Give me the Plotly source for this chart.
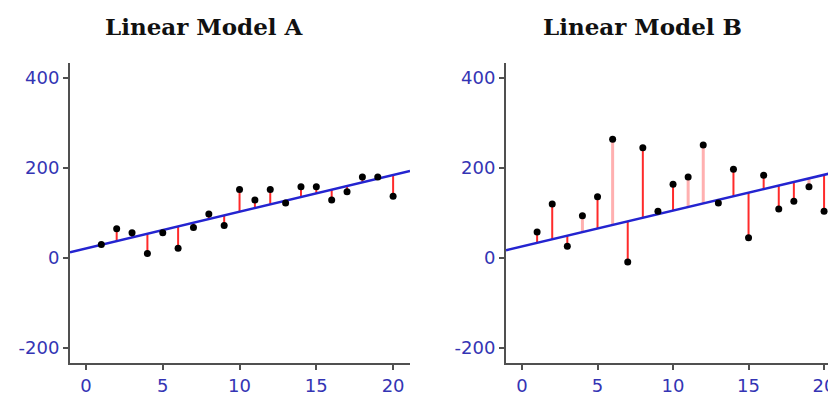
import plotly.graph_objects as go
from plotly.subplots import make_subplots

# ---- data ----
x_vals = list(range(1, 21))
y_model_a = [30, 65, 56, 10, 56, 22, 68, 98, 72, 152, 129, 152, 122, 158, 158, 129, 147, 180, 180, 137]
y_model_b = [58, 120, 26, 94, 136, 264, -9, 245, 104, 164, 180, 251, 122, 197, 45, 184, 109, 126, 158, 104]
fit_a = (21.5, 8.14)   # intercept, slope
fit_b = (25.8, 7.95)
titles = ["Linear Model A", "Linear Model B"]
x_ticks = [0, 5, 10, 15, 20]
y_ticks = [-200, 0, 200, 400]
y_tick_labels = ["-200", "0", "200", "400"]

# style: residual stems drawn lighter (as rendered in the reference)
pale_a = set()
pale_b = {4, 6, 11, 12, 19}

x_range_a = [-1.04, 21.1]
x_range_b = [-1.06, 20.79]
y_range = [-233, 433]

# the page body adds an 8px offset; the figure is sized to fill the rest
OFF = 8
W, H = 836 - OFF, 398 - OFF
ML, MR, MT, MB = 70 - OFF, 0, 63 - OFF, 398 - 363
plot_w = W - ML - MR
plot_h = H - MT - MB

fig = make_subplots(rows=1, cols=2)

TICK_FONT = dict(family="DejaVu Sans", size=18, color="#3434b4")
AXIS_COL = "#505050"

panels = [(y_model_a, fit_a, x_range_a, pale_a), (y_model_b, fit_b, x_range_b, pale_b)]
for i, (ys, (b0, b1), xr, pale) in enumerate(panels, start=1):
    # residual segments
    groups = {"red": ([], []), "pale": ([], [])}
    for xv, yv in zip(x_vals, ys):
        gx, gy = groups["pale" if xv in pale else "red"]
        gx += [xv, xv, None]
        gy += [yv, b0 + b1 * xv, None]
    for key, col, wd in [("pale", "#ffb0b0", 3), ("red", "#ff2a2a", 2)]:
        gx, gy = groups[key]
        if gx:
            fig.add_trace(go.Scatter(x=gx, y=gy, mode="lines",
                                     line=dict(color=col, width=wd),
                                     hoverinfo="skip", showlegend=False), row=1, col=i)
    # fitted line across the axis range
    fig.add_trace(go.Scatter(x=xr, y=[b0 + b1 * xr[0], b0 + b1 * xr[1]], mode="lines",
                             line=dict(color="#2424d0", width=2.5),
                             showlegend=False), row=1, col=i)
    # observations
    fig.add_trace(go.Scatter(x=x_vals, y=ys, mode="markers",
                             marker=dict(color="black", size=7, symbol="circle"),
                             showlegend=False), row=1, col=i)
    fig.update_xaxes(range=xr, tickvals=x_ticks, showgrid=False, zeroline=False,
                     showline=True, linecolor=AXIS_COL, linewidth=2, automargin=False,
                     ticks="outside", ticklen=5, tickwidth=2, tickcolor=AXIS_COL,
                     tickfont=TICK_FONT, row=1, col=i)
    fig.update_yaxes(range=y_range, tickvals=y_ticks, ticktext=y_tick_labels,
                     showgrid=False, zeroline=False, automargin=False,
                     showline=True, linecolor=AXIS_COL, linewidth=2,
                     ticks="outside", ticklen=5, tickwidth=2, tickcolor=AXIS_COL,
                     tickfont=TICK_FONT, row=1, col=i)

fig.update_layout(
    xaxis=dict(domain=[0, 340 / plot_w]),
    xaxis2=dict(domain=[(506 - 70) / plot_w, 1]),
)

# titles
for xpix, t in zip([204, 642], titles):
    fig.add_annotation(text="<b>" + t + "</b>", xref="paper", yref="paper",
                       x=(xpix - 70) / plot_w, y=1 + (63 - 27) / plot_h,
                       xanchor="center", yanchor="middle", showarrow=False,
                       font=dict(family="DejaVu Serif", size=23, color="#111111"))

fig.update_layout(width=W, height=H, margin=dict(l=ML, r=MR, t=MT, b=MB),
                  plot_bgcolor="white", paper_bgcolor="white", template="none")

fig.write_html("out.html")
